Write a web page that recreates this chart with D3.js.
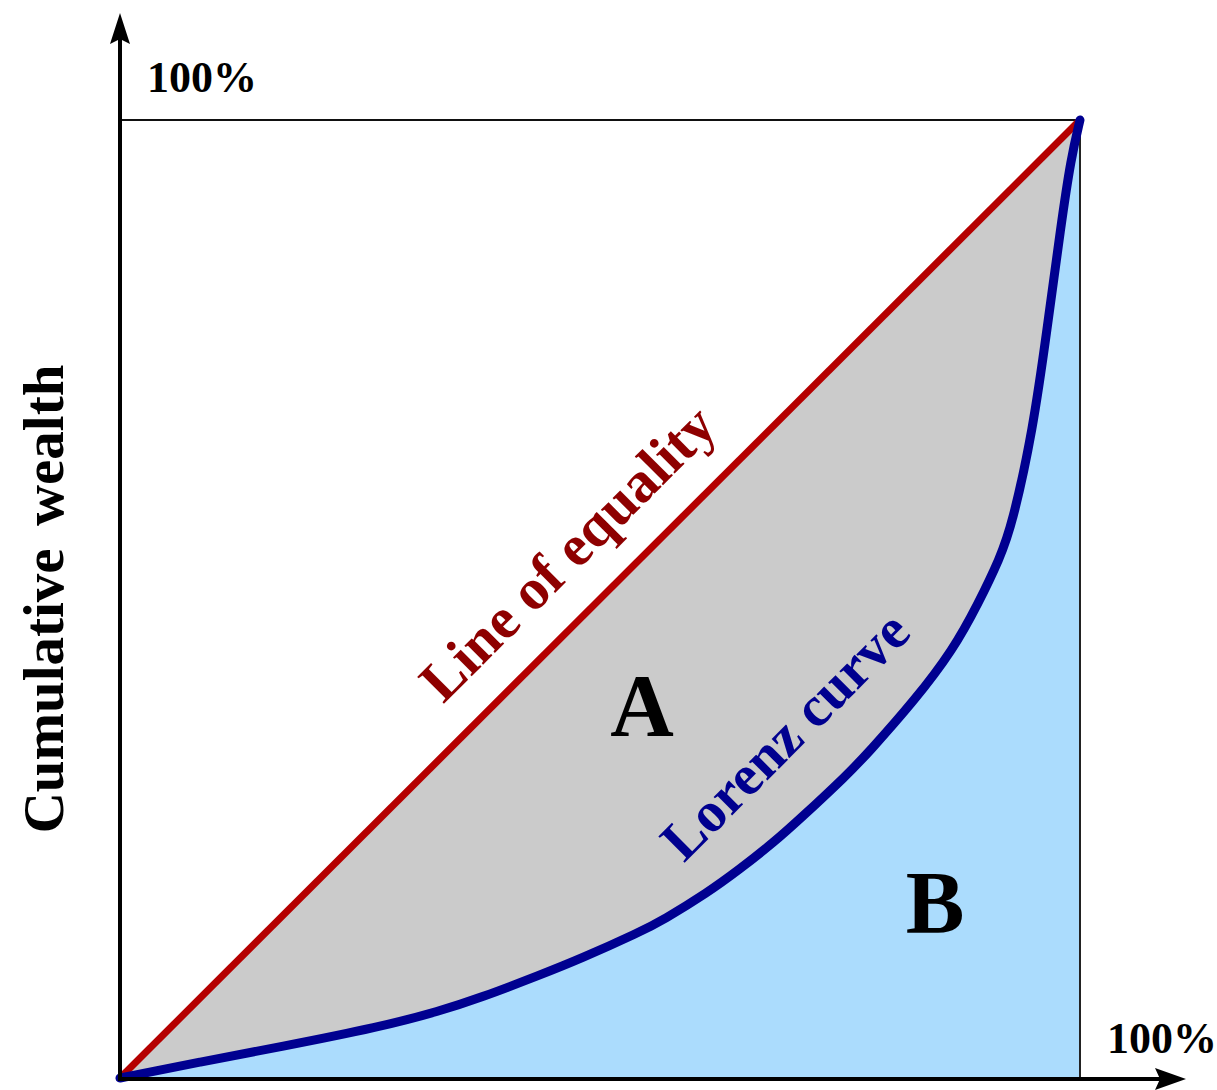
<!DOCTYPE html>
<html>
<head>
<meta charset="utf-8">
<script src="https://cdn.jsdelivr.net/npm/d3@7"></script>
<style>
  html, body { margin: 0; padding: 0; background: #ffffff; }
  svg { display: block; }
  text { font-family: "Liberation Serif", "Times New Roman", serif; font-weight: bold; }
</style>
</head>
<body>
<svg id="chart" width="1217" height="1090"></svg>
<script>
// ---- data ----
const popShare    = [0, 0.0833, 0.1667, 0.2708, 0.3333, 0.375, 0.4375, 0.4792, 0.5417, 0.5656, 0.6115, 0.6458, 0.6802, 0.7083, 0.7573, 0.7792, 0.8281, 0.8677, 0.8938, 0.9167, 0.9292, 0.9510, 0.9656, 0.9802, 0.9906, 1];
const wealthShare = [0, 0.0167, 0.0324, 0.0532, 0.0699, 0.0835, 0.1075, 0.1242, 0.1524, 0.1649, 0.1931, 0.2182, 0.2453, 0.2704, 0.3163, 0.3392, 0.3946, 0.4468, 0.4948, 0.5428, 0.5772, 0.6764, 0.7808, 0.8904, 0.9603, 1];
const equalityX = [0, 1];
const equalityY = [0, 1];
const tickLabels = ["100%", "100%"];
const axisTitleY = "Cumulative wealth";
const equalityLabel = "Line of equality";
const lorenzLabel = "Lorenz curve";
const regionLabels = ["A", "B"];

// ---- setup ----
const svg = d3.select("#chart");
const x = d3.scaleLinear().domain([0, 1]).range([120, 1080]);
const y = d3.scaleLinear().domain([0, 1]).range([1078, 120]);

const lorenz = popShare.map((p, i) => ({ p, w: wealthShare[i] }));
const equality = equalityX.map((p, i) => ({ p, w: equalityY[i] }));
const lorenzCurve = d3.curveBasis;

// gray triangle under equality line
svg.append("path")
  .datum(equality)
  .attr("fill", "#cbcbcb")
  .attr("d", d3.area().x(d => x(d.p)).y0(y(0)).y1(d => y(d.w)));

// light blue area under Lorenz curve
svg.append("path")
  .datum(lorenz)
  .attr("fill", "#abdcfd")
  .attr("d", d3.area().curve(lorenzCurve).x(d => x(d.p)).y0(y(0)).y1(d => y(d.w)));

// frame: top line and right line
svg.append("line")
  .attr("x1", x(0)).attr("x2", x(1)).attr("y1", y(1)).attr("y2", y(1))
  .attr("stroke", "#111").attr("stroke-width", 2);
svg.append("line")
  .attr("x1", x(1)).attr("x2", x(1)).attr("y1", y(1)).attr("y2", y(0))
  .attr("stroke", "#222").attr("stroke-width", 2);

// line of equality
svg.append("path")
  .datum(equality)
  .attr("fill", "none")
  .attr("stroke", "#b50000")
  .attr("stroke-width", 7)
  .attr("d", d3.line().x(d => x(d.p)).y(d => y(d.w)));

// Lorenz curve
svg.append("path")
  .datum(lorenz)
  .attr("fill", "none")
  .attr("stroke", "#000090")
  .attr("stroke-width", 9)
  .attr("stroke-linecap", "round")
  .attr("d", d3.line().curve(lorenzCurve).x(d => x(d.p)).y(d => y(d.w)));

// axes with arrows
const [x0, x1] = x.range();
const [y0, y1] = y.range();
svg.append("line")
  .attr("x1", x0).attr("x2", x1 + 100).attr("y1", y0 + 1).attr("y2", y0 + 1)
  .attr("stroke", "#000").attr("stroke-width", 4);
svg.append("line")
  .attr("x1", x0).attr("x2", x0).attr("y1", y0 + 3).attr("y2", y1 - 90)
  .attr("stroke", "#000").attr("stroke-width", 4);
// y arrowhead
const ay = y1 - 107;
svg.append("path")
  .attr("d", `M${x0},${ay} L${x0 + 10},${ay + 31} L${x0},${ay + 26} L${x0 - 10},${ay + 31} Z`)
  .attr("fill", "#000");
// x arrowhead
const ax = x1 + 106;
svg.append("path")
  .attr("d", `M${ax},${y0 + 1} L${ax - 31},${y0 + 12} L${ax - 26},${y0 + 1} L${ax - 31},${y0 - 10} Z`)
  .attr("fill", "#000");

// tick labels
svg.append("text")
  .attr("x", x0 + 27).attr("y", y1 - 28)
  .attr("font-size", 44).attr("fill", "#000")
  .text(tickLabels[0]);
svg.append("text")
  .attr("x", x1 + 27).attr("y", y0 - 25)
  .attr("font-size", 44).attr("fill", "#000")
  .text(tickLabels[1]);

// y axis title
svg.append("text")
  .attr("transform", `translate(63, ${(y0 + y1) / 2}) rotate(-90)`)
  .attr("text-anchor", "middle")
  .attr("font-size", 57).attr("fill", "#000")
  .attr("word-spacing", 8)
  .text(axisTitleY);

// line of equality label
const eqAngle = Math.atan2(y(1) - y(0), x(1) - x(0)) * 180 / Math.PI;
const eqT = 0.507;
svg.append("text")
  .attr("transform", `translate(${x(eqT)}, ${y(eqT)}) rotate(${eqAngle})`)
  .attr("x", 0).attr("y", -36)
  .attr("text-anchor", "middle")
  .attr("font-size", 58).attr("fill", "#8e0000")
  .text(equalityLabel);

// Lorenz curve label
const lzT = 0.745;
const lzW = d3.scaleLinear().domain(popShare).range(wealthShare)(lzT);
svg.append("text")
  .attr("transform", `translate(${x(lzT)}, ${y(lzW)}) rotate(-45)`)
  .attr("x", 0).attr("y", -52)
  .attr("text-anchor", "middle")
  .attr("font-size", 57).attr("fill", "#00008f")
  .text(lorenzLabel);

// region labels
svg.append("text")
  .attr("x", 642).attr("y", 735)
  .attr("text-anchor", "middle")
  .attr("font-size", 88).attr("fill", "#000")
  .text(regionLabels[0]);
svg.append("text")
  .attr("x", 935).attr("y", 932)
  .attr("text-anchor", "middle")
  .attr("font-size", 88).attr("fill", "#000")
  .text(regionLabels[1]);
</script>
</body>
</html>
